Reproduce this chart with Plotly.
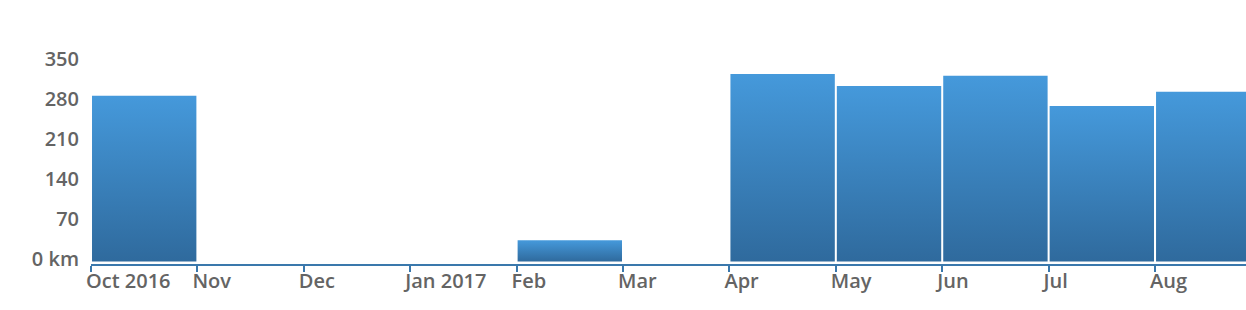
import plotly.graph_objects as go

months = ["Oct 2016", "Nov", "Dec", "Jan 2017", "Feb", "Mar", "Apr", "May", "Jun", "Jul", "Aug"]
distance_km = [290, 0, 0, 0, 37, 0, 328, 307, 325, 272, 297]
y_ticks = [0, 70, 140, 210, 280, 350]
y_tick_labels = ["0 km", "70", "140", "210", "280", "350"]

TOP = "rgb(69,153,219)"
BOTTOM = "rgb(47,106,157)"
AXIS = "rgb(58,120,172)"
TEXT = "rgb(100,100,100)"
gap = 0.0095

fig = go.Figure()
for i, v in enumerate(distance_km):
    if v <= 0:
        continue
    x0, x1 = i + gap, i + 1 - gap
    fig.add_trace(go.Scatter(
        x=[x0, x1, x1, x0, x0], y=[0, 0, v, v, 0],
        mode="lines", line=dict(width=0), fill="toself",
        fillgradient=dict(type="vertical", colorscale=[[0, BOTTOM], [1, TOP]]),
        hoverinfo="text", text=f"{months[i]}: {v} km", showlegend=False,
    ))

font = dict(family="Open Sans, Liberation Sans, sans-serif", size=20, color=TEXT, weight=600)
fig.update_layout(
    width=1246, height=310,
    margin=dict(l=91, r=0, t=50, b=46),
    plot_bgcolor="white", paper_bgcolor="white",
    font=font,
    xaxis=dict(
        range=[0, 10.855], tickmode="array",
        tickvals=list(range(len(months))), ticktext=months,
        showgrid=False, zeroline=False,
        showline=True, linecolor=AXIS, linewidth=2,
        ticks="outside", ticklen=6, tickwidth=2, tickcolor=AXIS,
        ticklabelposition="outside right", ticklabelshift=-7, ticklabelstandoff=-2,
        tickfont=font,
    ),
    yaxis=dict(
        range=[-4.4, 370.1], tickmode="array",
        tickvals=y_ticks, ticktext=y_tick_labels,
        showgrid=False, zeroline=False, showline=False,
        ticks="", ticklabelstandoff=11, ticklabelshift=-2, tickfont=font,
    ),
)
fig.write_html("out.html")
